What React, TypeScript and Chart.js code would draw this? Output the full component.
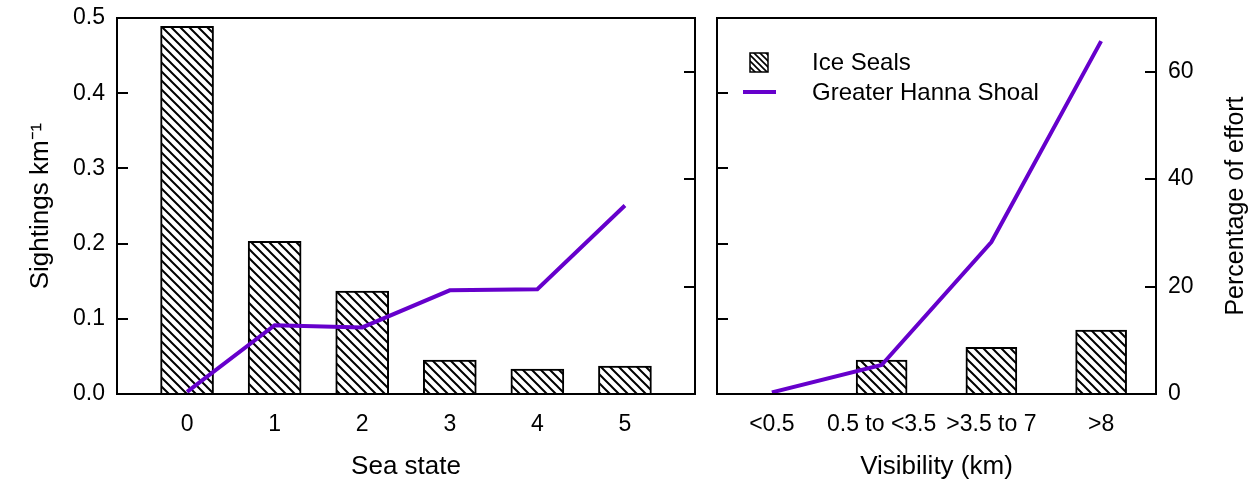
import React, { useEffect, useRef } from 'react';
import { Chart, registerables } from 'chart.js';

Chart.register(...registerables);

// Sea state panel
const seaStateLabels = ['0', '1', '2', '3', '4', '5'];
const seaStateValues = [0, 1, 2, 3, 4, 5];
const seaStateSightings = [0.489, 0.203, 0.137, 0.045, 0.033, 0.037];
const seaStateEffort = [0.4, 12.8, 12.4, 19.3, 19.5, 35.1];

// Visibility panel
const visibilityLabels = ['<0.5', '0.5 to <3.5', '>3.5 to 7', '>8'];
const visibilitySightings = [null, 0.045, 0.062, 0.085];
const visibilityEffort = [0.3, 5.4, 28.3, 65.7];

const seriesNames = ['Ice Seals', 'Greater Hanna Shoal'];
const sightingsTitle = 'Sightings km\u207B\u00B9';
const effortTitle = 'Percentage of effort';

const FONT = 'Arial, "Liberation Sans", Helvetica, sans-serif';
const PURPLE = '#6600cc';

function makeHatch(ctx: CanvasRenderingContext2D, spacing: number, width: number) {
  const tile = document.createElement('canvas');
  tile.width = spacing;
  tile.height = spacing;
  const g = tile.getContext('2d')!;
  g.fillStyle = '#fff';
  g.fillRect(0, 0, spacing, spacing);
  g.strokeStyle = '#000';
  g.lineWidth = width;
  g.beginPath();
  g.moveTo(-1, -1);
  g.lineTo(spacing + 1, spacing + 1);
  g.moveTo(-1, spacing - 1);
  g.lineTo(1, spacing + 1);
  g.moveTo(spacing - 1, -1);
  g.lineTo(spacing + 1, 1);
  g.stroke();
  return ctx.createPattern(tile, 'repeat')!;
}

// Box around the plot area plus inward-pointing tick marks on both y scales
const framePlugin = {
  id: 'frame',
  afterDatasetsDraw(chart: any) {
    const { ctx, chartArea: a } = chart;
    ctx.save();
    ctx.strokeStyle = '#000';
    ctx.lineWidth = 2;
    for (const id of ['y', 'yPct']) {
      const s = chart.scales[id];
      if (!s) continue;
      const len = 11;
      s.ticks.forEach((t: any) => {
        const y = Math.round(s.getPixelForValue(t.value));
        if (y <= a.top + 2 || y >= a.bottom - 2) return;
        ctx.beginPath();
        if (s.position === 'left') {
          ctx.moveTo(a.left, y);
          ctx.lineTo(a.left + len, y);
        } else {
          ctx.moveTo(a.right, y);
          ctx.lineTo(a.right - len, y);
        }
        ctx.stroke();
      });
    }
    ctx.strokeRect(a.left, a.top, a.right - a.left, a.bottom - a.top);
    ctx.restore();
  },
};

// Legend drawn inside the plot area of the visibility panel
const insideLegendPlugin = {
  id: 'insideLegend',
  afterDraw(chart: any, _args: any, opts: any) {
    const { ctx, chartArea: a } = chart;
    const lineDs = chart.data.datasets[0];
    const barDs = chart.data.datasets[1];
    ctx.save();
    const bx = a.left + 33;
    const by = 53;
    ctx.fillStyle = opts.pattern;
    ctx.fillRect(bx, by, 18, 19);
    ctx.strokeStyle = '#000';
    ctx.lineWidth = 1.5;
    ctx.strokeRect(bx, by, 18, 19);
    ctx.strokeStyle = lineDs.borderColor;
    ctx.lineWidth = 4;
    ctx.beginPath();
    ctx.moveTo(a.left + 26, 92);
    ctx.lineTo(a.left + 59, 92);
    ctx.stroke();
    ctx.fillStyle = '#000';
    ctx.font = `24px ${FONT}`;
    ctx.textAlign = 'left';
    ctx.textBaseline = 'middle';
    ctx.fillText(barDs.label, a.left + 95, 63);
    ctx.fillText(lineDs.label, a.left + 95, 93);
    ctx.restore();
  },
};

// Right-hand axis title, reading bottom to top
const rightTitlePlugin = {
  id: 'rightTitle',
  afterDraw(chart: any) {
    const { ctx, chartArea: a } = chart;
    const s = chart.scales.yPct;
    ctx.save();
    ctx.translate(s.right - 18, (a.top + a.bottom) / 2);
    ctx.rotate(-Math.PI / 2);
    ctx.fillStyle = '#000';
    ctx.font = `25px ${FONT}`;
    ctx.textAlign = 'center';
    ctx.textBaseline = 'middle';
    ctx.fillText(effortTitle, 0, 0);
    ctx.restore();
  },
};

const noGrid = { display: false, drawTicks: false };
const noBorder = { display: false };

// Fix an axis box to a set size and drop its label overhang padding
const fixWidth = (w: number) => (s: any) => {
  s.width = w;
  s.paddingTop = 0;
  s.paddingBottom = 0;
};
const fixHeight = (h: number) => (s: any) => {
  s.height = h;
  s.paddingLeft = 0;
  s.paddingRight = 0;
};

export default function App() {
  const leftRef = useRef<HTMLCanvasElement>(null);
  const rightRef = useRef<HTMLCanvasElement>(null);

  useEffect(() => {
    Chart.defaults.font.family = FONT;
    Chart.defaults.color = '#000';

    const lctx = leftRef.current!.getContext('2d')!;
    const rctx = rightRef.current!.getContext('2d')!;
    const leftHatch = makeHatch(lctx, 9, 2);
    const rightHatch = makeHatch(rctx, 9, 2);
    const legendHatch = makeHatch(rctx, 6, 1.6);

    const left = new Chart(leftRef.current!, {
      type: 'bar',
      data: {
        datasets: [
          {
            type: 'line',
            label: seriesNames[1],
            data: seaStateValues.map((x, i) => ({ x, y: seaStateEffort[i] })),
            yAxisID: 'yPct',
            borderColor: PURPLE,
            borderWidth: 4,
            pointRadius: 0,
            tension: 0,
            order: 0,
          },
          {
            type: 'bar',
            label: seriesNames[0],
            data: seaStateValues.map((x, i) => ({ x, y: seaStateSightings[i] })),
            yAxisID: 'y',
            backgroundColor: leftHatch,
            borderColor: '#000',
            borderWidth: 2,
            barThickness: 53,
            order: 1,
          },
        ],
      } as any,
      options: {
        animation: false,
        responsive: true,
        maintainAspectRatio: false,
        layout: { padding: { top: 18, left: 0, right: 0, bottom: 0 } },
        plugins: { legend: { display: false }, tooltip: { enabled: false } },
        scales: {
          x: {
            type: 'linear',
            min: -0.8,
            max: 5.8,
            offset: false,
            grid: noGrid,
            border: noBorder,
            afterBuildTicks: (s: any) => {
              s.ticks = seaStateValues.map((v) => ({ value: v }));
            },
            ticks: {
              callback: (v: any) => seaStateLabels[seaStateValues.indexOf(Number(v))] ?? '',
              font: { size: 23 },
              padding: 17,
              autoSkip: false,
              maxRotation: 0,
            },
            title: { display: true, text: 'Sea state', font: { size: 26, lineHeight: 1.2 }, padding: { top: 0, bottom: 0 } },
            afterFit: fixHeight(88),
          },
          y: {
            position: 'left',
            min: 0,
            max: 0.5,
            grid: noGrid,
            border: noBorder,
            ticks: { stepSize: 0.1, callback: (v: any) => Number(v).toFixed(1), font: { size: 23 }, padding: 12 },
            title: { display: true, text: sightingsTitle, font: { size: 26, lineHeight: 1.2 }, padding: { top: 25, bottom: 0 } },
            afterFit: fixWidth(117),
          },
          yPct: {
            position: 'right',
            min: 0,
            max: 70,
            grid: noGrid,
            border: noBorder,
            ticks: { display: false, stepSize: 20, includeBounds: false },
            afterFit: fixWidth(12),
          },
        },
      } as any,
      plugins: [framePlugin],
    });

    const right = new Chart(rightRef.current!, {
      type: 'bar',
      data: {
        labels: visibilityLabels,
        datasets: [
          {
            type: 'line',
            label: seriesNames[1],
            data: visibilityEffort,
            yAxisID: 'yPct',
            borderColor: PURPLE,
            borderWidth: 4,
            pointRadius: 0,
            tension: 0,
            order: 0,
          },
          {
            type: 'bar',
            label: seriesNames[0],
            data: visibilitySightings,
            yAxisID: 'y',
            backgroundColor: rightHatch,
            borderColor: '#000',
            borderWidth: 2,
            barThickness: 51,
            order: 1,
          },
        ],
      } as any,
      options: {
        animation: false,
        responsive: true,
        maintainAspectRatio: false,
        layout: { padding: { top: 18, left: 0, right: 0, bottom: 0 } },
        plugins: {
          legend: { display: false },
          tooltip: { enabled: false },
          insideLegend: { pattern: legendHatch },
        },
        scales: {
          x: {
            type: 'category',
            offset: true,
            grid: noGrid,
            border: noBorder,
            ticks: { font: { size: 23 }, padding: 17, autoSkip: false, maxRotation: 0 },
            title: { display: true, text: 'Visibility (km)', font: { size: 26, lineHeight: 1.2 }, padding: { top: 0, bottom: 0 } },
            afterFit: fixHeight(88),
          },
          y: {
            position: 'left',
            min: 0,
            max: 0.5,
            grid: noGrid,
            border: noBorder,
            ticks: { display: false, stepSize: 0.1 },
            afterFit: fixWidth(10),
          },
          yPct: {
            position: 'right',
            min: 0,
            max: 70,
            grid: noGrid,
            border: noBorder,
            ticks: { stepSize: 20, includeBounds: false, font: { size: 23 }, padding: 12 },
            afterFit: fixWidth(98),
          },
        },
      } as any,
      plugins: [framePlugin, insideLegendPlugin, rightTitlePlugin],
    });

    return () => {
      left.destroy();
      right.destroy();
    };
  }, []);

  return (
    <div style={{ position: 'absolute', left: 0, top: 0, width: 1254, height: 482, background: '#fff' }}>
      <div style={{ position: 'absolute', left: 0, top: 0, width: 707, height: 482 }}>
        <canvas ref={leftRef} />
      </div>
      <div style={{ position: 'absolute', left: 707, top: 0, width: 547, height: 482 }}>
        <canvas ref={rightRef} />
      </div>
    </div>
  );
}
